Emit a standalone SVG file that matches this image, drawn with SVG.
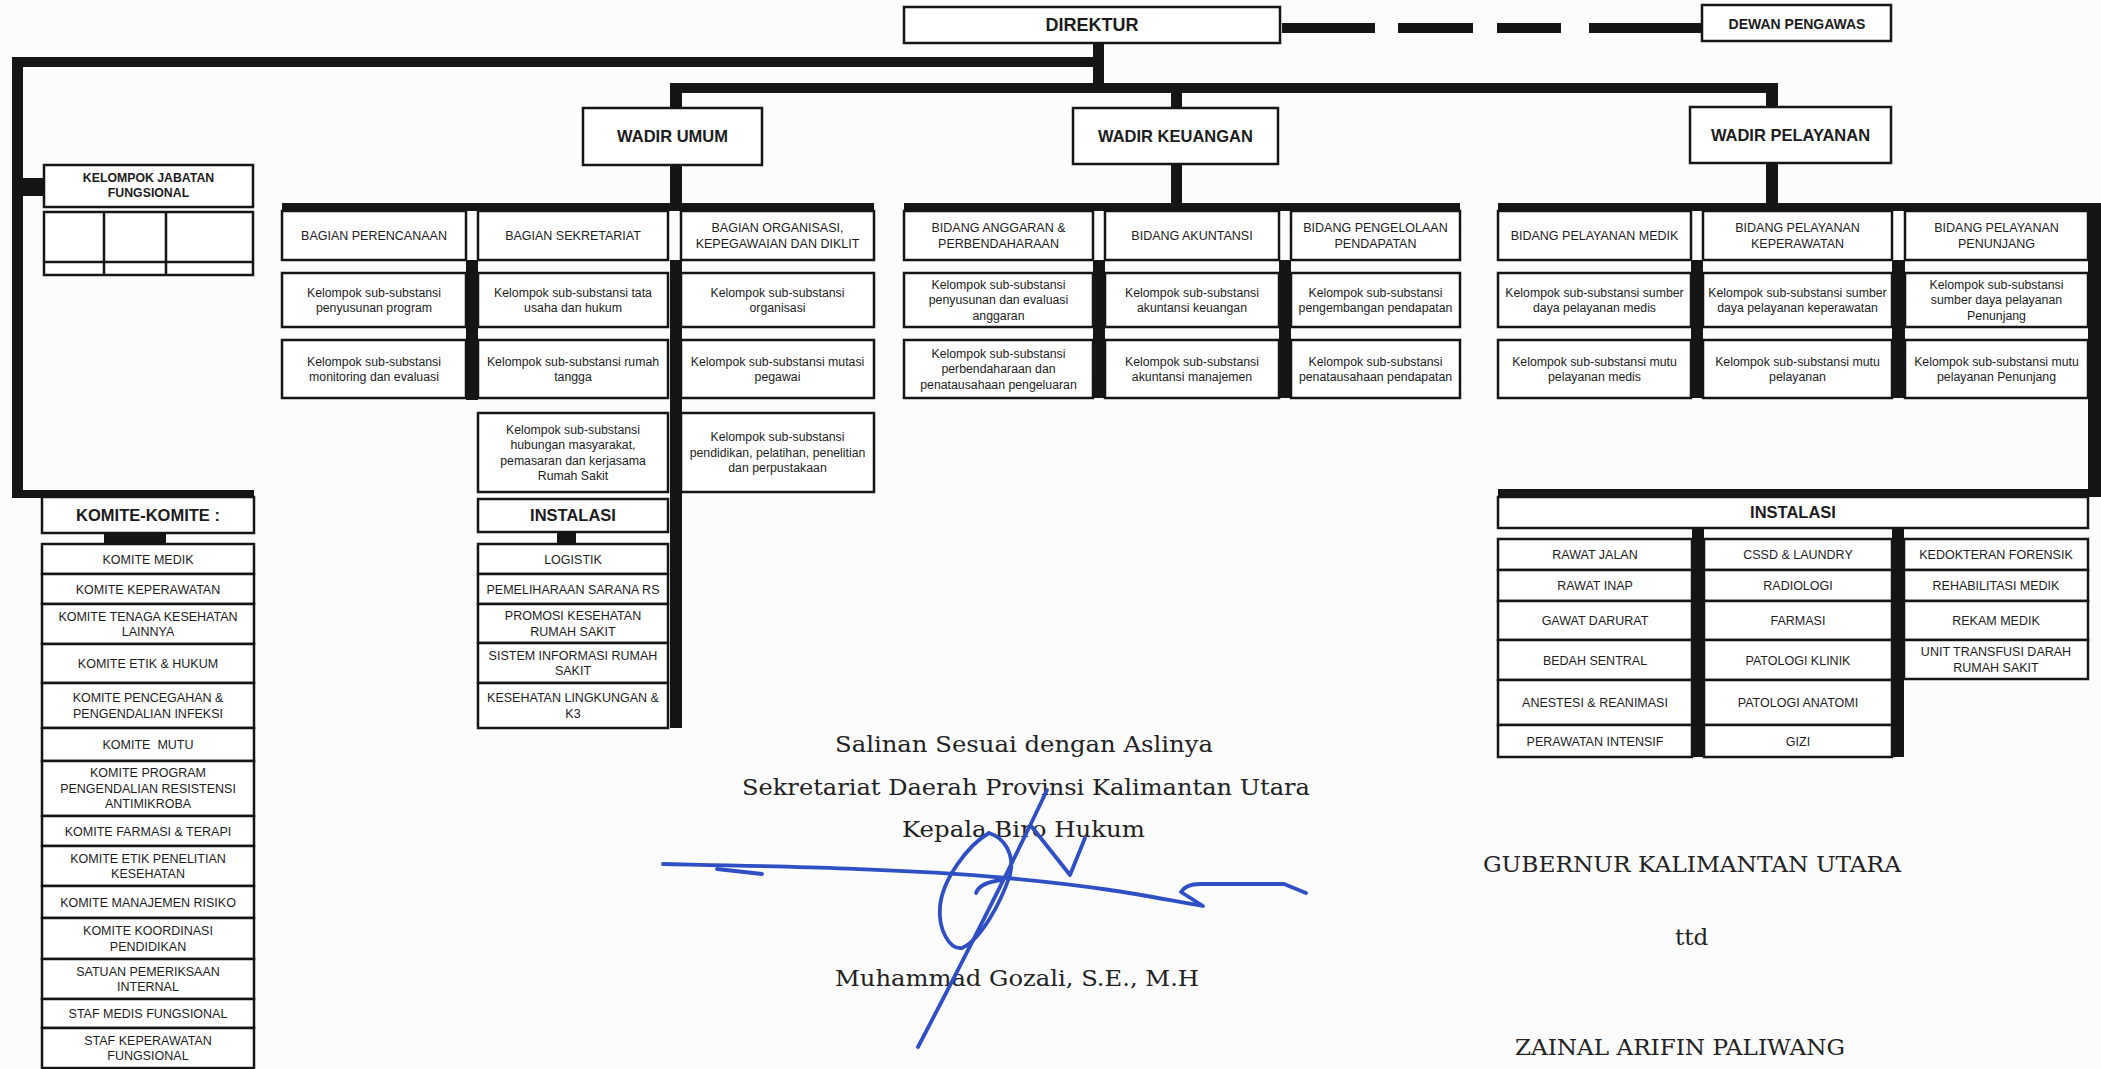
<svg xmlns="http://www.w3.org/2000/svg" width="2101" height="1069" viewBox="0 0 2101 1069">
<style>
.bg{fill:#fcfcfd}
.box{fill:#fff;stroke:#151515;stroke-width:2.5}
.ln{fill:none;stroke:#151515;stroke-width:2.5}
.conn{fill:#151515}
.t{font-family:"Liberation Sans",Arial,sans-serif;font-size:12.5px;fill:#1c1c1c;text-anchor:middle}
.s{font-family:"Liberation Sans",Arial,sans-serif;font-size:12.3px;fill:#1c1c1c;text-anchor:middle}
.b{font-family:"Liberation Sans",Arial,sans-serif;font-weight:bold;fill:#1c1c1c;text-anchor:middle}
.sf{font-family:"DejaVu Serif","Liberation Serif",serif;font-size:23px;fill:#222}
.sig{fill:none;stroke:#2f4fc4;stroke-width:3.8;stroke-linecap:round;stroke-linejoin:round}
</style>
<rect class="bg" x="0" y="0" width="2101" height="1069"/>

<g id="connectors">
  <rect class="conn" x="1282" y="23" width="93" height="10"/>
  <rect class="conn" x="1398" y="23" width="75" height="10"/>
  <rect class="conn" x="1497" y="23" width="64" height="10"/>
  <rect class="conn" x="1589" y="23" width="113" height="10"/>
  <rect class="conn" x="12" y="57" width="1092" height="10"/>
  <rect class="conn" x="1093" y="43" width="11" height="50"/>
  <rect class="conn" x="670" y="83" width="1108" height="10"/>
  <rect class="conn" x="670" y="83" width="12" height="122"/>
  <rect class="conn" x="670" y="260" width="12" height="468"/>
  <rect class="conn" x="12" y="57" width="11" height="441"/>
  <rect class="conn" x="12" y="490" width="242" height="8"/>
  <rect class="conn" x="12" y="178" width="32" height="18"/>
  <rect class="conn" x="282" y="203" width="592" height="8"/>
  <rect class="conn" x="466" y="260" width="12" height="140"/>
  <rect class="conn" x="104" y="532" width="62" height="12"/>
  <rect class="conn" x="557" y="532" width="19" height="12"/>
  <rect class="conn" x="1171" y="93" width="11" height="112"/>
  <rect class="conn" x="904" y="203" width="556" height="8"/>
  <rect class="conn" x="1093" y="260" width="12" height="138"/>
  <rect class="conn" x="1279" y="260" width="12" height="138"/>
  <rect class="conn" x="1766" y="83" width="12" height="122"/>
  <rect class="conn" x="1498" y="203" width="603" height="8"/>
  <rect class="conn" x="2088" y="203" width="13" height="294"/>
  <rect class="conn" x="1498" y="489" width="603" height="8"/>
  <rect class="conn" x="1691" y="260" width="12" height="138"/>
  <rect class="conn" x="1892" y="260" width="13" height="138"/>
  <rect class="conn" x="1692" y="528" width="12" height="229"/>
  <rect class="conn" x="1892" y="528" width="12" height="229"/>
</g>

<g id="direktur"><rect class="box" x="904" y="7" width="376" height="36"/><text class="b" font-size="18" x="1092" y="31">DIREKTUR</text></g>
<g id="dewan-pengawas"><rect class="box" x="1702" y="5" width="189" height="36"/><text class="b" font-size="14" x="1797" y="29">DEWAN PENGAWAS</text></g>

<g id="wadir-umum"><rect class="box" x="583" y="108" width="179" height="57"/><text class="b" font-size="16.5" x="672.5" y="142">WADIR UMUM</text></g>
<g id="wadir-keuangan"><rect class="box" x="1073" y="108" width="205" height="56"/><text class="b" font-size="16.5" x="1175.5" y="142">WADIR KEUANGAN</text></g>
<g id="wadir-pelayanan"><rect class="box" x="1690" y="107" width="201" height="56"/><text class="b" font-size="16.5" x="1790.5" y="141">WADIR PELAYANAN</text></g>

<g id="kelompok-jabatan-fungsional">
  <rect class="box" x="44" y="165" width="209" height="42"/>
  <text class="b" font-size="12.3"><tspan x="148.5" y="182">KELOMPOK JABATAN</tspan><tspan x="148.5" y="197">FUNGSIONAL</tspan></text>
  <rect class="box" x="44" y="212" width="209" height="63"/>
  <path class="ln" d="M104 212V275M166 212V275M44 262H253"/>
</g>

<!-- Wadir Umum branch -->
<g id="bagian-perencanaan"><rect class="box" x="282" y="211" width="184" height="49"/><text class="t" x="374" y="240">BAGIAN PERENCANAAN</text></g>
<g id="bagian-sekretariat"><rect class="box" x="478" y="211" width="190" height="49"/><text class="t" x="573" y="240">BAGIAN SEKRETARIAT</text></g>
<g id="bagian-organisasi"><rect class="box" x="681" y="211" width="193" height="49"/><text class="t"><tspan x="777.5" y="232">BAGIAN ORGANISASI,</tspan><tspan x="777.5" y="247.5">KEPEGAWAIAN DAN DIKLIT</tspan></text></g>

<g id="sub-penyusunan-program"><rect class="box" x="282" y="273" width="184" height="54"/><text class="s"><tspan x="374" y="296.5">Kelompok sub-substansi</tspan><tspan x="374" y="312">penyusunan program</tspan></text></g>
<g id="sub-monitoring-evaluasi"><rect class="box" x="282" y="340" width="184" height="58"/><text class="s"><tspan x="374" y="365.5">Kelompok sub-substansi</tspan><tspan x="374" y="381">monitoring dan evaluasi</tspan></text></g>
<g id="sub-tata-usaha"><rect class="box" x="478" y="273" width="190" height="54"/><text class="s"><tspan x="573" y="296.5">Kelompok sub-substansi tata</tspan><tspan x="573" y="312">usaha dan hukum</tspan></text></g>
<g id="sub-rumah-tangga"><rect class="box" x="478" y="340" width="190" height="58"/><text class="s"><tspan x="573" y="365.5">Kelompok sub-substansi rumah</tspan><tspan x="573" y="381">tangga</tspan></text></g>
<g id="sub-humas"><rect class="box" x="478" y="413" width="190" height="79"/><text class="s"><tspan x="573" y="433.5">Kelompok sub-substansi</tspan><tspan x="573" y="449">hubungan masyarakat,</tspan><tspan x="573" y="464.5">pemasaran dan kerjasama</tspan><tspan x="573" y="480">Rumah Sakit</tspan></text></g>
<g id="sub-organisasi"><rect class="box" x="681" y="273" width="193" height="54"/><text class="s"><tspan x="777.5" y="296.5">Kelompok sub-substansi</tspan><tspan x="777.5" y="312">organisasi</tspan></text></g>
<g id="sub-mutasi-pegawai"><rect class="box" x="681" y="340" width="193" height="58"/><text class="s"><tspan x="777.5" y="365.5">Kelompok sub-substansi mutasi</tspan><tspan x="777.5" y="381">pegawai</tspan></text></g>
<g id="sub-diklit"><rect class="box" x="681" y="413" width="193" height="79"/><text class="s"><tspan x="777.5" y="441.3">Kelompok sub-substansi</tspan><tspan x="777.5" y="456.8">pendidikan, pelatihan, penelitian</tspan><tspan x="777.5" y="472.3">dan perpustakaan</tspan></text></g>

<g id="instalasi-umum">
  <rect class="box" x="478" y="499" width="190" height="33"/><text class="b" font-size="16.5" x="573" y="521">INSTALASI</text>
  <rect class="box" x="478" y="544" width="190" height="30"/><text class="t" x="573" y="563.5">LOGISTIK</text>
  <rect class="box" x="478" y="574" width="190" height="30"/><text class="t" x="573" y="593.5">PEMELIHARAAN SARANA RS</text>
  <rect class="box" x="478" y="604" width="190" height="39"/><text class="t"><tspan x="573" y="620">PROMOSI KESEHATAN</tspan><tspan x="573" y="635.5">RUMAH SAKIT</tspan></text>
  <rect class="box" x="478" y="643" width="190" height="40"/><text class="t"><tspan x="573" y="659.5">SISTEM INFORMASI RUMAH</tspan><tspan x="573" y="675">SAKIT</tspan></text>
  <rect class="box" x="478" y="683" width="190" height="45"/><text class="t"><tspan x="573" y="702">KESEHATAN LINGKUNGAN &amp;</tspan><tspan x="573" y="717.5">K3</tspan></text>
</g>

<!-- Wadir Keuangan branch -->
<g id="bidang-anggaran"><rect class="box" x="904" y="211" width="189" height="49"/><text class="t"><tspan x="998.5" y="232">BIDANG ANGGARAN &amp;</tspan><tspan x="998.5" y="247.5">PERBENDAHARAAN</tspan></text></g>
<g id="bidang-akuntansi"><rect class="box" x="1105" y="211" width="174" height="49"/><text class="t" x="1192" y="240">BIDANG AKUNTANSI</text></g>
<g id="bidang-pengelolaan-pendapatan"><rect class="box" x="1291" y="211" width="169" height="49"/><text class="t"><tspan x="1375.5" y="232">BIDANG PENGELOLAAN</tspan><tspan x="1375.5" y="247.5">PENDAPATAN</tspan></text></g>
<g id="sub-evaluasi-anggaran"><rect class="box" x="904" y="273" width="189" height="54"/><text class="s"><tspan x="998.5" y="288.8">Kelompok sub-substansi</tspan><tspan x="998.5" y="304.3">penyusunan dan evaluasi</tspan><tspan x="998.5" y="319.8">anggaran</tspan></text></g>
<g id="sub-perbendaharaan"><rect class="box" x="904" y="340" width="189" height="58"/><text class="s"><tspan x="998.5" y="357.8">Kelompok sub-substansi</tspan><tspan x="998.5" y="373.3">perbendaharaan dan</tspan><tspan x="998.5" y="388.8">penatausahaan pengeluaran</tspan></text></g>
<g id="sub-akuntansi-keuangan"><rect class="box" x="1105" y="273" width="174" height="54"/><text class="s"><tspan x="1192" y="296.5">Kelompok sub-substansi</tspan><tspan x="1192" y="312">akuntansi keuangan</tspan></text></g>
<g id="sub-akuntansi-manajemen"><rect class="box" x="1105" y="340" width="174" height="58"/><text class="s"><tspan x="1192" y="365.5">Kelompok sub-substansi</tspan><tspan x="1192" y="381">akuntansi manajemen</tspan></text></g>
<g id="sub-pengembangan-pendapatan"><rect class="box" x="1291" y="273" width="169" height="54"/><text class="s"><tspan x="1375.5" y="296.5">Kelompok sub-substansi</tspan><tspan x="1375.5" y="312">pengembangan pendapatan</tspan></text></g>
<g id="sub-penatausahaan-pendapatan"><rect class="box" x="1291" y="340" width="169" height="58"/><text class="s"><tspan x="1375.5" y="365.5">Kelompok sub-substansi</tspan><tspan x="1375.5" y="381">penatausahaan pendapatan</tspan></text></g>

<!-- Wadir Pelayanan branch -->
<g id="bidang-pelayanan-medik"><rect class="box" x="1498" y="211" width="193" height="49"/><text class="t" x="1594.5" y="240">BIDANG PELAYANAN MEDIK</text></g>
<g id="bidang-pelayanan-keperawatan"><rect class="box" x="1703" y="211" width="189" height="49"/><text class="t"><tspan x="1797.5" y="232">BIDANG PELAYANAN</tspan><tspan x="1797.5" y="247.5">KEPERAWATAN</tspan></text></g>
<g id="bidang-pelayanan-penunjang"><rect class="box" x="1905" y="211" width="183" height="49"/><text class="t"><tspan x="1996.5" y="232">BIDANG PELAYANAN</tspan><tspan x="1996.5" y="247.5">PENUNJANG</tspan></text></g>
<g id="sub-sdm-medis"><rect class="box" x="1498" y="273" width="193" height="54"/><text class="s"><tspan x="1594.5" y="296.5">Kelompok sub-substansi sumber</tspan><tspan x="1594.5" y="312">daya pelayanan medis</tspan></text></g>
<g id="sub-mutu-medis"><rect class="box" x="1498" y="340" width="193" height="58"/><text class="s"><tspan x="1594.5" y="365.5">Kelompok sub-substansi mutu</tspan><tspan x="1594.5" y="381">pelayanan medis</tspan></text></g>
<g id="sub-sdm-keperawatan"><rect class="box" x="1703" y="273" width="189" height="54"/><text class="s"><tspan x="1797.5" y="296.5">Kelompok sub-substansi sumber</tspan><tspan x="1797.5" y="312">daya pelayanan keperawatan</tspan></text></g>
<g id="sub-mutu-keperawatan"><rect class="box" x="1703" y="340" width="189" height="58"/><text class="s"><tspan x="1797.5" y="365.5">Kelompok sub-substansi mutu</tspan><tspan x="1797.5" y="381">pelayanan</tspan></text></g>
<g id="sub-sdm-penunjang"><rect class="box" x="1905" y="273" width="183" height="54"/><text class="s"><tspan x="1996.5" y="288.8">Kelompok sub-substansi</tspan><tspan x="1996.5" y="304.3">sumber daya pelayanan</tspan><tspan x="1996.5" y="319.8">Penunjang</tspan></text></g>
<g id="sub-mutu-penunjang"><rect class="box" x="1905" y="340" width="183" height="58"/><text class="s"><tspan x="1996.5" y="365.5">Kelompok sub-substansi mutu</tspan><tspan x="1996.5" y="381">pelayanan Penunjang</tspan></text></g>

<g id="instalasi-pelayanan">
  <rect class="box" x="1498" y="497" width="590" height="31"/><text class="b" font-size="16.5" x="1793" y="518">INSTALASI</text>
  <rect class="box" x="1498" y="539" width="194" height="31"/><text class="t" x="1595" y="559">RAWAT JALAN</text>
  <rect class="box" x="1498" y="570" width="194" height="31"/><text class="t" x="1595" y="590">RAWAT INAP</text>
  <rect class="box" x="1498" y="601" width="194" height="39"/><text class="t" x="1595" y="625">GAWAT DARURAT</text>
  <rect class="box" x="1498" y="640" width="194" height="40"/><text class="t" x="1595" y="664.5">BEDAH SENTRAL</text>
  <rect class="box" x="1498" y="680" width="194" height="45"/><text class="t" x="1595" y="707">ANESTESI &amp; REANIMASI</text>
  <rect class="box" x="1498" y="725" width="194" height="32"/><text class="t" x="1595" y="745.5">PERAWATAN INTENSIF</text>
  <rect class="box" x="1704" y="539" width="188" height="31"/><text class="t" x="1798" y="559">CSSD &amp; LAUNDRY</text>
  <rect class="box" x="1704" y="570" width="188" height="31"/><text class="t" x="1798" y="590">RADIOLOGI</text>
  <rect class="box" x="1704" y="601" width="188" height="39"/><text class="t" x="1798" y="625">FARMASI</text>
  <rect class="box" x="1704" y="640" width="188" height="40"/><text class="t" x="1798" y="664.5">PATOLOGI KLINIK</text>
  <rect class="box" x="1704" y="680" width="188" height="45"/><text class="t" x="1798" y="707">PATOLOGI ANATOMI</text>
  <rect class="box" x="1704" y="725" width="188" height="32"/><text class="t" x="1798" y="745.5">GIZI</text>
  <rect class="box" x="1904" y="539" width="184" height="31"/><text class="t" x="1996" y="559">KEDOKTERAN FORENSIK</text>
  <rect class="box" x="1904" y="570" width="184" height="31"/><text class="t" x="1996" y="590">REHABILITASI MEDIK</text>
  <rect class="box" x="1904" y="601" width="184" height="39"/><text class="t" x="1996" y="625">REKAM MEDIK</text>
  <rect class="box" x="1904" y="640" width="184" height="39"/><text class="t"><tspan x="1996" y="656">UNIT TRANSFUSI DARAH</tspan><tspan x="1996" y="671.5">RUMAH SAKIT</tspan></text>
</g>

<g id="komite-komite">
  <rect class="box" x="42" y="497" width="212" height="36"/><text class="b" font-size="16.5" x="148" y="521">KOMITE-KOMITE :</text>
  <rect class="box" x="42" y="544" width="212" height="30"/><text class="t" x="148" y="563.5">KOMITE MEDIK</text>
  <rect class="box" x="42" y="574" width="212" height="30"/><text class="t" x="148" y="593.5">KOMITE KEPERAWATAN</text>
  <rect class="box" x="42" y="604" width="212" height="40"/><text class="t"><tspan x="148" y="620.5">KOMITE TENAGA KESEHATAN</tspan><tspan x="148" y="636">LAINNYA</tspan></text>
  <rect class="box" x="42" y="644" width="212" height="39"/><text class="t" x="148" y="668">KOMITE ETIK &amp; HUKUM</text>
  <rect class="box" x="42" y="683" width="212" height="45"/><text class="t"><tspan x="148" y="702">KOMITE PENCEGAHAN &amp;</tspan><tspan x="148" y="717.5">PENGENDALIAN INFEKSI</tspan></text>
  <rect class="box" x="42" y="728" width="212" height="33"/><text class="t" x="148" y="749" xml:space="preserve">KOMITE  MUTU</text>
  <rect class="box" x="42" y="761" width="212" height="55"/><text class="t"><tspan x="148" y="777.3">KOMITE PROGRAM</tspan><tspan x="148" y="792.8">PENGENDALIAN RESISTENSI</tspan><tspan x="148" y="808.3">ANTIMIKROBA</tspan></text>
  <rect class="box" x="42" y="816" width="212" height="30"/><text class="t" x="148" y="835.5">KOMITE FARMASI &amp; TERAPI</text>
  <rect class="box" x="42" y="846" width="212" height="40"/><text class="t"><tspan x="148" y="862.5">KOMITE ETIK PENELITIAN</tspan><tspan x="148" y="878">KESEHATAN</tspan></text>
  <rect class="box" x="42" y="886" width="212" height="32"/><text class="t" x="148" y="906.5">KOMITE MANAJEMEN RISIKO</text>
  <rect class="box" x="42" y="918" width="212" height="41"/><text class="t"><tspan x="148" y="935">KOMITE KOORDINASI</tspan><tspan x="148" y="950.5">PENDIDIKAN</tspan></text>
  <rect class="box" x="42" y="959" width="212" height="40"/><text class="t"><tspan x="148" y="975.5">SATUAN PEMERIKSAAN</tspan><tspan x="148" y="991">INTERNAL</tspan></text>
  <rect class="box" x="42" y="999" width="212" height="29"/><text class="t" x="148" y="1018">STAF MEDIS FUNGSIONAL</text>
  <rect class="box" x="42" y="1028" width="212" height="40"/><text class="t"><tspan x="148" y="1044.5">STAF KEPERAWATAN</tspan><tspan x="148" y="1060">FUNGSIONAL</tspan></text>
</g>

<g id="pengesahan">
  <text class="sf" x="835" y="752" textLength="378" lengthAdjust="spacingAndGlyphs">Salinan Sesuai dengan Aslinya</text>
  <text class="sf" x="742" y="795" textLength="568" lengthAdjust="spacingAndGlyphs">Sekretariat Daerah Provinsi Kalimantan Utara</text>
  <text class="sf" x="902" y="837" textLength="243" lengthAdjust="spacingAndGlyphs">Kepala Biro Hukum</text>
  <text class="sf" x="835" y="986" textLength="364" lengthAdjust="spacingAndGlyphs">Muhammad Gozali, S.E., M.H</text>
  <path class="sig" d="M663 864 C 760 866, 900 868, 1007 878 S 1150 897, 1203 906 L 1181 892 Q 1186 884, 1200 884 L 1284 884 L 1306 893"/>
  <path class="sig" d="M717 869 L 762 874"/>
  <path class="sig" d="M989 833 C 968 845, 942 880, 940 907 C 938 930, 950 950, 962 948 C 980 940, 1000 905, 1010 875 C 1015 855, 1005 838, 989 833"/>
  <path class="sig" d="M976 893 Q 980 882, 1003 880"/>
  <path class="sig" d="M1047 790 Q 1000 890, 918 1047"/>
  <path class="sig" d="M1032 827 L 1070 875 L 1085 838"/>
</g>

<g id="gubernur">
  <text class="sf" x="1483" y="872" textLength="418" lengthAdjust="spacingAndGlyphs">GUBERNUR KALIMANTAN UTARA</text>
  <text class="sf" x="1675" y="945">ttd</text>
  <text class="sf" x="1515" y="1055" textLength="330" lengthAdjust="spacingAndGlyphs">ZAINAL ARIFIN PALIWANG</text>
</g>
</svg>
